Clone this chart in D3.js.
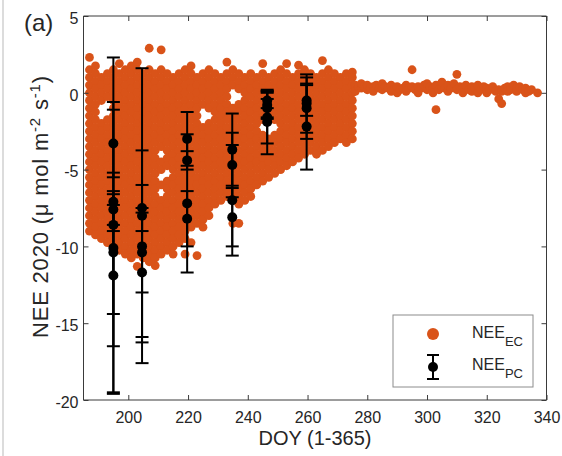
<!DOCTYPE html>
<html><head><meta charset="utf-8">
<script src="https://cdn.jsdelivr.net/npm/d3@7"></script>
<style>body{margin:0;background:#fff}svg{display:block}text{font-family:"Liberation Sans",Arial,sans-serif;fill:#262626}</style>
</head><body><div id="chart"></div>
<script>
// ---- data: NEE_EC (eddy covariance) scatter, one list of values per DOY column ----
const ecDay = [187,189,191,193,195,197,199,201,203,205,207,209,211,213,215,217,219,221,223,225,227,229,231,233,235,237,239,241,243,245,247,249,251,253,255,257,259,261,263,265,267,269,271,273,275,
  276,277,278,279,280,281,282,283,284,285,286,287,288,289,290,291,292,293,294,295,296,297,298,299,300,301,302,303,304,305,306,307,308,309,310,311,312,313,314,315,316,317,318,319,320,321,322,323,324,325,326,327,328,329,330,331,332,333,334,335,337];
const ecNee = [
 [2.3,1.5,1.0,0.5,0.0,-0.5,-1.0,-1.5,-2.0,-2.5,-3.0,-3.5,-4.0,-4.5,-5.0,-5.5,-6.0,-6.5,-7.0,-7.5,-8.0,-8.5,-9.0],
 [1.75,1.25,0.75,0.25,-0.25,-0.75,-1.25,-1.75,-2.25,-2.75,-3.25,-3.75,-4.25,-4.75,-5.25,-5.75,-6.25,-6.75,-7.25,-7.75,-8.25,-8.75,-9.25],
 [1.0,0.5,0.0,-0.5,-2.0,-2.5,-3.0,-3.5,-4.0,-4.5,-5.0,-5.5,-6.0,-6.5,-7.0,-7.5,-8.0,-8.5,-9.0,-9.5],
 [1.25,0.75,0.25,-0.25,-1.75,-2.25,-2.75,-3.25,-3.75,-4.25,-4.75,-5.25,-5.75,-6.25,-6.75,-7.25,-7.75,-8.25,-8.75,-9.25,-9.75],
 [1.5,1.0,0.5,0.0,-0.5,-1.0,-1.5,-2.0,-2.5,-3.0,-3.5,-4.0,-4.5,-5.0,-5.5,-6.0,-6.5,-7.0,-7.5,-8.0,-8.5,-9.0,-9.5,-10.0],
 [1.9,1.25,0.75,0.25,-0.25,-0.75,-1.25,-1.75,-2.25,-2.75,-3.25,-3.75,-4.25,-4.75,-5.25,-5.75,-6.25,-6.75,-7.25,-7.75,-8.25,-8.75,-9.25,-9.75,-10.25],
 [1.5,1.0,0.5,0.0,-0.5,-1.0,-1.5,-2.0,-2.5,-3.0,-3.5,-4.0,-4.5,-5.0,-5.5,-6.0,-6.5,-7.0,-7.5,-8.0,-8.5,-9.0,-9.5,-10.0,-10.5],
 [1.75,1.25,0.75,0.25,-0.25,-0.75,-1.25,-1.75,-2.25,-2.75,-3.25,-3.75,-4.25,-4.75,-5.25,-5.75,-6.25,-6.75,-7.25,-7.75,-8.25,-8.75,-9.25,-9.75,-10.25,-10.75],
 [2.0,1.5,1.0,0.5,0.0,-0.5,-1.0,-1.5,-2.0,-2.5,-3.0,-3.5,-4.0,-4.5,-5.0,-5.5,-6.0,-6.5,-7.0,-7.5,-8.0,-8.5,-9.0,-9.5,-10.0,-10.5,-11.3],
 [1.25,0.75,0.25,-0.25,-0.75,-1.25,-1.75,-2.25,-2.75,-3.25,-3.75,-4.25,-4.75,-5.25,-5.75,-6.25,-6.75,-7.25,-7.75,-8.25,-8.75,-9.25,-9.75,-10.25,-10.75],
 [2.9,1.5,1.0,0.5,0.0,-0.5,-1.0,-1.5,-2.0,-2.5,-3.0,-3.5,-4.0,-4.5,-5.0,-5.5,-6.0,-6.5,-7.0,-7.5,-8.0,-8.5,-9.0,-9.5,-10.0,-10.5,-11.0],
 [1.25,0.75,0.25,-0.25,-0.75,-1.25,-1.75,-2.25,-2.75,-3.25,-3.75,-4.25,-4.75,-5.25,-5.75,-6.25,-6.75,-7.25,-7.75,-8.25,-8.75,-9.25,-9.75,-10.25,-10.75,-11.25],
 [2.8,1.5,1.0,0.5,0.0,-0.5,-1.0,-1.5,-2.0,-2.5,-3.0,-3.5,-4.5,-5.0,-6.0,-7.0,-7.5,-8.0,-8.5,-9.0,-9.5,-10.0,-10.5],
 [1.25,0.75,0.25,-0.25,-0.75,-1.25,-1.75,-2.25,-2.75,-3.25,-3.75,-4.25,-4.75,-5.75,-6.25,-6.75,-7.25,-7.75,-8.25,-8.75,-9.25,-9.75,-10.25],
 [1.0,0.5,0.0,-0.5,-1.0,-1.5,-2.0,-2.5,-3.0,-3.5,-4.0,-4.5,-5.0,-5.5,-6.0,-6.5,-7.0,-7.5,-8.0,-8.5,-9.0,-9.5,-10.0,-10.5],
 [1.25,0.75,0.25,-0.25,-0.75,-1.25,-1.75,-2.25,-2.75,-3.25,-3.75,-4.25,-4.75,-5.25,-5.75,-6.25,-6.75,-7.25,-7.75,-8.25,-8.75,-9.25,-9.75],
 [1.5,1.0,0.5,0.0,-0.5,-1.0,-1.5,-2.0,-2.5,-3.0,-3.5,-4.0,-4.5,-5.0,-5.5,-6.0,-6.5,-7.0,-7.5,-8.0,-8.5,-9.0,-9.5,-10.5],
 [1.75,1.25,0.75,0.25,-0.25,-0.75,-1.25,-1.75,-2.25,-2.75,-3.25,-3.75,-4.25,-4.75,-5.25,-5.75,-6.25,-6.75,-7.25,-7.75,-8.25,-8.75,-9.75],
 [1.0,0.5,0.0,-0.5,-1.0,-1.5,-2.0,-2.5,-3.0,-3.5,-4.0,-4.5,-5.0,-5.5,-6.0,-6.5,-7.0,-7.5,-8.0,-8.5,-10.6],
 [1.25,0.75,0.25,-0.25,-0.75,-2.25,-2.75,-3.25,-3.75,-4.25,-4.75,-5.25,-5.75,-6.25,-6.75,-7.25,-7.75,-8.25,-8.75],
 [1.5,1.0,0.5,0.0,-0.5,-1.0,-2.0,-2.5,-3.0,-3.5,-4.0,-4.5,-5.0,-5.5,-6.0,-6.5,-7.0,-7.5,-8.0],
 [1.25,0.75,0.25,-0.25,-0.75,-1.25,-1.75,-2.25,-2.75,-3.25,-3.75,-4.25,-4.75,-5.25,-5.75,-6.25,-6.75,-7.25],
 [1.0,0.5,0.0,-0.5,-1.0,-1.5,-2.0,-2.5,-3.0,-3.5,-4.0,-4.5,-5.0,-5.5,-6.0,-6.5,-7.0],
 [2.0,1.25,0.75,0.25,-0.25,-0.75,-1.25,-1.75,-2.25,-2.75,-3.25,-3.75,-4.25,-4.75,-5.25,-5.75,-6.25,-6.75],
 [1.5,1.0,0.5,-1.0,-1.5,-2.0,-2.5,-3.0,-3.5,-4.0,-4.5,-5.0,-5.5,-6.0,-6.5,-7.0,-8.5],
 [1.25,0.75,0.25,-0.75,-1.25,-1.75,-2.25,-2.75,-3.25,-3.75,-4.25,-4.75,-5.25,-5.75,-6.25,-6.75,-7.25,-8.5],
 [1.0,0.5,0.0,-0.5,-1.0,-1.5,-2.0,-2.5,-3.0,-3.5,-4.0,-4.5,-5.0,-5.5,-6.0,-6.5,-7.0],
 [1.25,0.75,0.25,-0.25,-0.75,-1.25,-1.75,-2.25,-2.75,-3.25,-3.75,-4.25,-4.75,-5.25,-5.75,-6.25,-6.75],
 [1.0,0.5,0.0,-0.5,-1.0,-1.5,-2.0,-2.5,-3.0,-3.5,-4.0,-4.5,-5.0,-5.5,-6.0],
 [1.9,1.25,0.75,0.25,-0.25,-0.75,-1.25,-1.75,-2.75,-3.25,-3.75,-4.25,-4.75,-5.25,-5.75],
 [1.0,0.5,0.0,-0.5,-1.0,-1.5,-3.0,-3.5,-4.0,-4.5,-5.0,-5.5],
 [1.25,0.75,0.25,-0.25,-0.75,-1.25,-1.75,-2.75,-3.25,-3.75,-4.25,-4.75,-5.25],
 [1.5,1.0,0.5,0.0,-0.5,-1.0,-1.5,-2.0,-2.5,-3.0,-3.5,-4.0,-4.5,-5.0],
 [1.9,1.25,0.75,0.25,-0.25,-0.75,-1.25,-1.75,-2.25,-2.75,-3.25,-3.75,-4.25,-4.75],
 [1.0,0.5,0.0,-0.5,-1.0,-1.5,-2.0,-2.5,-3.0,-3.5,-4.0,-4.5],
 [1.8,1.25,0.75,0.25,-0.25,-0.75,-1.25,-1.75,-2.25,-2.75,-3.25,-3.75,-4.25],
 [1.5,1.0,0.5,0.0,-0.5,-1.0,-1.5,-2.0,-2.5,-3.0,-3.5,-4.0],
 [1.25,0.75,0.25,-0.25,-0.75,-1.25,-1.75,-2.25,-2.75,-3.25,-3.75],
 [1.0,0.5,0.0,-0.5,-1.0,-1.5,-2.0,-2.5,-3.0,-3.5,-4.0],
 [2.1,1.25,0.75,0.25,-0.25,-0.75,-1.25,-1.75,-2.25,-2.75,-3.25,-3.75],
 [1.5,1.0,0.5,0.0,-0.5,-1.0,-1.5,-2.0,-2.5,-3.0,-3.5],
 [1.25,0.75,0.25,-0.25,-0.75,-1.25,-1.75,-2.25,-2.75,-3.25],
 [1.0,0.5,0.0,-0.5,-1.0,-1.5,-2.0,-2.5,-3.0],
 [1.25,0.75,0.25,-0.25,-0.75,-1.25,-1.75,-2.25,-2.75,-3.25],
 [1.35,1.0,0.5,0.0,-0.5,-1.0,-1.5,-2.0,-2.5,-3.0],
 [0.5,0.1],[0.4],[0.3,0.6],[0.4],[0.2,0.5],[0.3],[0.4,0.1],[0.5],[0.3],[0.2,0.6],
 [0.4],[0.3],[0.5,0.1],[0.2],[0.0,0.4],[0.2],[0.3],[0.5,0.1],[0.3],[1.5,0.4],
 [0.2],[0.4,0.0],[0.3],[0.5],[0.2,0.6],[0.4],[0.3,0.0],[-1.1,0.5],[0.2],[0.4,0.7],
 [0.3],[0.1,0.5],[0.3],[0.6],[1.2,0.2],[0.4],[0.3,0.0],[0.5],[0.2],[0.4,0.1],
 [0.3],[0.0,0.5],[0.2],[0.4],[0.3,0.0],[0.2],[0.4],[0.1],[-0.4,0.2],[-0.7,0.1],
 [0.3],[0.4,0.1],[0.2],[0.5],[0.3,0.1],[0.4],[0.2],[0.3,0.0],[0.1],[0.2],[0.0]
];
// ---- data: NEE_PC (chamber) means with error bars ----
const pcDoy  = [195,195,195,195,195,195,195, 204.6,204.6,204.6,204.6,204.6, 219.7,219.7,219.7,219.7, 234.8,234.8,234.8,234.8, 246.5,246.5,246.5,246.5,246.5, 259.7,259.7,259.7,259.7];
const pcMean = [-3.3,-7.1,-7.6,-8.6,-10.1,-10.4,-11.9, -7.5,-8.0,-10.0,-10.4,-11.7, -3.0,-4.4,-7.2,-8.2, -3.7,-4.7,-7.0,-8.1, -0.5,-0.8,-1.0,-1.6,-1.9, -0.5,-0.7,-1.0,-2.2];
const pcErr  = [2.2,1.9,1.0,10.9,9.5,4.0,4.6, 1.5,9.6,6.25,2.6,4.2, 1.75,0.6,4.5,1.8, 2.35,2.1,3.6,1.9, 0.5,0.9,0.6,1.7,2.1, 1.0,1.9,2.0,2.8];
const xTicks = [200,220,240,260,280,300,320,340];
const yTicks = [-20,-15,-10,-5,0,5];

const W = 562, H = 456;
const m = {left: 83.5, right: 546.5, top: 16, bottom: 400};
const orange = "#D95319";
const svg = d3.select("#chart").append("svg").attr("width", W).attr("height", H);
svg.append("rect").attr("width", W).attr("height", H).attr("fill", "#fff");
svg.append("line").attr("x1", 3).attr("x2", 3).attr("y1", 0).attr("y2", H).attr("stroke", "#d0d0d0").attr("stroke-width", 1.5);

const x = d3.scaleLinear().domain([185, 340]).range([m.left, m.right]);
const y = d3.scaleLinear().domain([-20, 5]).range([m.bottom, m.top]);

const ecPts = [];
ecDay.forEach((d, i) => ecNee[i].forEach(v => ecPts.push([d, v])));

const plot = svg.append("g");
plot.selectAll("circle.ec").data(ecPts).join("circle").attr("class", "ec")
  .attr("cx", d => x(d[0])).attr("cy", d => y(d[1])).attr("r", 4.4).attr("fill", orange);

const pc = pcDoy.map((d, i) => ({d, m: pcMean[i], e: pcErr[i]}));
const eb = plot.append("g").attr("stroke", "#000").attr("stroke-width", 2);
pc.forEach(p => {
  const cx = x(p.d), y1 = y(p.m + p.e), y2 = y(p.m - p.e);
  eb.append("line").attr("x1", cx).attr("x2", cx).attr("y1", y1).attr("y2", y2);
  eb.append("line").attr("x1", cx - 6.5).attr("x2", cx + 6.5).attr("y1", y1).attr("y2", y1);
  eb.append("line").attr("x1", cx - 6.5).attr("x2", cx + 6.5).attr("y1", y2).attr("y2", y2);
});
plot.selectAll("circle.pc").data(pc).join("circle").attr("class", "pc")
  .attr("cx", p => x(p.d)).attr("cy", p => y(p.m)).attr("r", 5).attr("fill", "#000");

// axes (MATLAB box style, ticks inward on all sides)
const axCol = "#3a3a3a";
const fmt = d => d < 0 ? "-" + Math.abs(d) : String(d);
const gx = svg.append("g").attr("transform", `translate(0,${m.bottom})`)
  .call(d3.axisBottom(x).tickValues(xTicks).tickSize(-5).tickPadding(12).tickFormat(fmt));
const gxt = svg.append("g").attr("transform", `translate(0,${m.top})`)
  .call(d3.axisTop(x).tickValues(xTicks).tickSize(-5).tickFormat(""));
const gy = svg.append("g").attr("transform", `translate(${m.left},0)`)
  .call(d3.axisLeft(y).tickValues(yTicks).tickSize(-5).tickPadding(5).tickFormat(fmt));
const gyr = svg.append("g").attr("transform", `translate(${m.right},0)`)
  .call(d3.axisRight(y).tickValues(yTicks).tickSize(-5).tickFormat(""));
[gx, gxt, gy, gyr].forEach(g => {
  g.select(".domain").attr("stroke", axCol).attr("stroke-width", 1);
  g.selectAll(".tick line").attr("stroke", axCol).attr("stroke-width", 1);
  g.selectAll("text").style("font-size", "16px").attr("fill", "#262626").style("font-family", "Liberation Sans, Arial, sans-serif");
});
gy.selectAll("text").attr("dy", "0.45em");
gx.selectAll(".domain").attr("d", `M${m.left},0H${m.right}`);
gxt.selectAll(".domain").attr("d", `M${m.left},0H${m.right}`);
gy.selectAll(".domain").attr("d", `M0,${m.top}V${m.bottom}`);
gyr.selectAll(".domain").attr("d", `M0,${m.top}V${m.bottom}`);

// axis labels
svg.append("text").attr("x", (m.left + m.right) / 2).attr("y", 445).attr("text-anchor", "middle")
  .style("font-size", "20px").text("DOY (1-365)");
const yl = svg.append("text").attr("transform", `translate(48,207) rotate(-90)`)
  .attr("text-anchor", "middle").style("font-size", "22px")
  .attr("textLength", 262).attr("lengthAdjust", "spacing");
yl.append("tspan").text("NEE 2020 (");
yl.append("tspan").text("μ");
yl.append("tspan").text(" mol m");
yl.append("tspan").attr("dy", -8).style("font-size", "15px").text("-2");
yl.append("tspan").attr("dy", 8).text(" s");
yl.append("tspan").attr("dy", -8).style("font-size", "15px").text("-1");
yl.append("tspan").attr("dy", 8).text(")");
svg.append("text").attr("x", 24).attr("y", 31).style("font-size", "24px").text("(a)");

// legend
const lg = svg.append("g");
lg.append("rect").attr("x", 393).attr("y", 315).attr("width", 140).attr("height", 72)
  .attr("fill", "#fff").attr("stroke", "#8c8c8c").attr("stroke-width", 1);
lg.append("circle").attr("cx", 433).attr("cy", 334).attr("r", 6).attr("fill", orange);
lg.append("line").attr("x1", 433).attr("x2", 433).attr("y1", 355).attr("y2", 379).attr("stroke", "#000").attr("stroke-width", 2);
lg.append("line").attr("x1", 427).attr("x2", 439).attr("y1", 355).attr("y2", 355).attr("stroke", "#000").attr("stroke-width", 2);
lg.append("line").attr("x1", 427).attr("x2", 439).attr("y1", 379).attr("y2", 379).attr("stroke", "#000").attr("stroke-width", 2);
lg.append("circle").attr("cx", 433).attr("cy", 367).attr("r", 5).attr("fill", "#000");
const legItems = [["EC", 338], ["PC", 370]];
legItems.forEach(([sub, by]) => {
  const t = lg.append("text").attr("x", 472).attr("y", by).style("font-size", "16px");
  t.append("tspan").text("NEE");
  t.append("tspan").attr("dy", 8).style("font-size", "13px").text(sub);
});
</script></body></html>
